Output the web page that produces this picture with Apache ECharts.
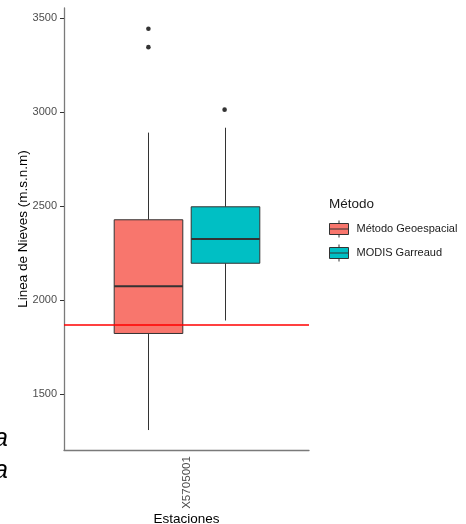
<!DOCTYPE html>
<html><head><meta charset="utf-8">
<script src="https://cdn.jsdelivr.net/npm/echarts@6/dist/echarts.min.js"></script>
<style>html,body{margin:0;padding:0;background:#fff}#c{width:466px;height:524px}</style>
</head><body><div id="c"></div>
<script>
// ---- data ----
const categories = ['X5705001'];
const methods = ['Método Geoespacial', 'MODIS Garreaud'];
// [lower whisker, Q1, median, Q3, upper whisker]
const geoStats = [1311, 1824, 2075, 2428, 2891];
const modisStats = [1893, 2197, 2326, 2497, 2917];
const geoOutliers = [3345, 3443];
const modisOutliers = [3013];
const referenceLine = 1872;
const yTicks = [1500, 2000, 2500, 3000, 3500];
const yRange = [1205, 3553];

// ---- style ----
const FONT = '"Liberation Sans", Arial, sans-serif';
const colors = ['#F8766D', '#00BFC4'];
const OFFSETS = [-0.1555, 0.1555];
const HALF = 0.14;
const EDGE = '#333333';

function boxRender(g) {
  return function (params, api) {
    const cat = api.value(0);
    const band = api.size([1, 0])[0];
    const cx = Math.round(api.coord([cat, yRange[0]])[0] + OFFSETS[g] * band) + 0.5;
    const hw = HALF * band;
    const y = i => api.coord([cat, api.value(i)])[1];
    const yLo = y(1), yQ1 = y(2), yMed = y(3), yQ3 = y(4), yHi = y(5);
    const color = api.visual('color');
    return {
      type: 'group', children: [
        { type: 'line', shape: { x1: cx, y1: yHi, x2: cx, y2: yQ3 }, style: { stroke: EDGE, lineWidth: 1 } },
        { type: 'line', shape: { x1: cx, y1: yQ1, x2: cx, y2: yLo }, style: { stroke: EDGE, lineWidth: 1 } },
        { type: 'rect', shape: { x: cx - hw, y: yQ3, width: 2 * hw, height: yQ1 - yQ3 }, style: { fill: color, stroke: EDGE, lineWidth: 1 } },
        { type: 'line', shape: { x1: cx - hw, y1: yMed, x2: cx + hw, y2: yMed }, style: { stroke: EDGE, lineWidth: 2 } }
      ]
    };
  };
}

function outlierRender(params, api) {
  const cat = api.value(0);
  const g = api.value(1);
  const band = api.size([1, 0])[0];
  const p = api.coord([cat, api.value(2)]);
  return { type: 'circle', shape: { cx: p[0] + OFFSETS[g] * band, cy: p[1], r: 2.3 }, style: { fill: EDGE } };
}

const outlierData = [];
geoOutliers.forEach(v => outlierData.push([0, 0, v]));
modisOutliers.forEach(v => outlierData.push([0, 1, v]));

const chart = echarts.init(document.getElementById('c'), null, { renderer: 'canvas' });
chart.setOption({
  animation: false,
  backgroundColor: '#ffffff',
  textStyle: { fontFamily: FONT },
  title: {
    text: 'Método', left: 329, top: 197, padding: 0,
    textStyle: { fontSize: 13.5, fontWeight: 'normal', color: '#1a1a1a', fontFamily: FONT }
  },
  legend: {
    orient: 'vertical', left: 329, top: 220, padding: 0,
    itemWidth: 19, itemHeight: 17, itemGap: 6,
    icon: 'path://M0,3H19V14H0Z M9.5,0V3 M9.5,14V17 M0,8.5H19',
    data: methods,
    selectedMode: false,
    itemStyle: { borderColor: EDGE, borderWidth: 1 },
    textStyle: { fontSize: 11, color: '#1a1a1a', fontFamily: FONT, padding: [0, 0, 0, 3] }
  },
  grid: { left: 64, right: 157, top: 8, bottom: 74, containLabel: false, outerBoundsMode: 'none' },
  xAxis: {
    type: 'category', data: categories,
    name: 'Estaciones', nameLocation: 'middle', nameGap: 62, nameMoveOverlap: false,
    nameTextStyle: { fontSize: 13.5, color: '#000', fontFamily: FONT },
    axisLine: { lineStyle: { color: '#7a7a7a', width: 1.3 } },
    axisTick: { alignWithLabel: true, length: 4, lineStyle: { color: EDGE } },
    axisLabel: { rotate: 90, fontSize: 11.6, color: '#4d4d4d', margin: 6, fontFamily: FONT },
    splitLine: { show: false }
  },
  yAxis: {
    type: 'value', min: yRange[0], max: yRange[1],
    name: 'Linea de Nieves (m.s.n.m)', nameLocation: 'middle', nameGap: 34, nameRotate: 90, nameMoveOverlap: false,
    nameTextStyle: { fontSize: 13.5, color: '#000', fontFamily: FONT },
    axisLine: { show: true, lineStyle: { color: '#7a7a7a', width: 1.3 } },
    axisTick: { show: true, length: 4, lineStyle: { color: EDGE }, customValues: yTicks },
    axisLabel: { fontSize: 11, color: '#4d4d4d', margin: 7, fontFamily: FONT, customValues: yTicks, formatter: v => String(v) },
    splitLine: { show: false }
  },
  series: [
    {
      name: methods[0], type: 'custom', renderItem: boxRender(0),
      itemStyle: { color: colors[0] },
      encode: { x: 0, y: [1, 2, 3, 4, 5] },
      data: [[0].concat(geoStats)],
      z: 2,
      markLine: {
        silent: true, symbol: ['none', 'none'], label: { show: false },
        lineStyle: { color: '#FF0000', width: 1.6, type: 'solid' },
        data: [{ yAxis: referenceLine }], z: 5
      }
    },
    {
      name: methods[1], type: 'custom', renderItem: boxRender(1),
      itemStyle: { color: colors[1] },
      encode: { x: 0, y: [1, 2, 3, 4, 5] },
      data: [[0].concat(modisStats)],
      z: 2
    },
    {
      name: 'outliers', type: 'custom', renderItem: outlierRender,
      encode: { x: 0, y: 2 },
      data: outlierData, z: 3
    }
  ],
  graphic: [
    { type: 'text', x: -6, y: 439.5, style: { text: 'a', font: 'italic 25px ' + FONT, fill: '#000', verticalAlign: 'middle' } },
    { type: 'text', x: -6, y: 471, style: { text: 'a', font: 'italic 25px ' + FONT, fill: '#000', verticalAlign: 'middle' } }
  ]
});
</script></body></html>
